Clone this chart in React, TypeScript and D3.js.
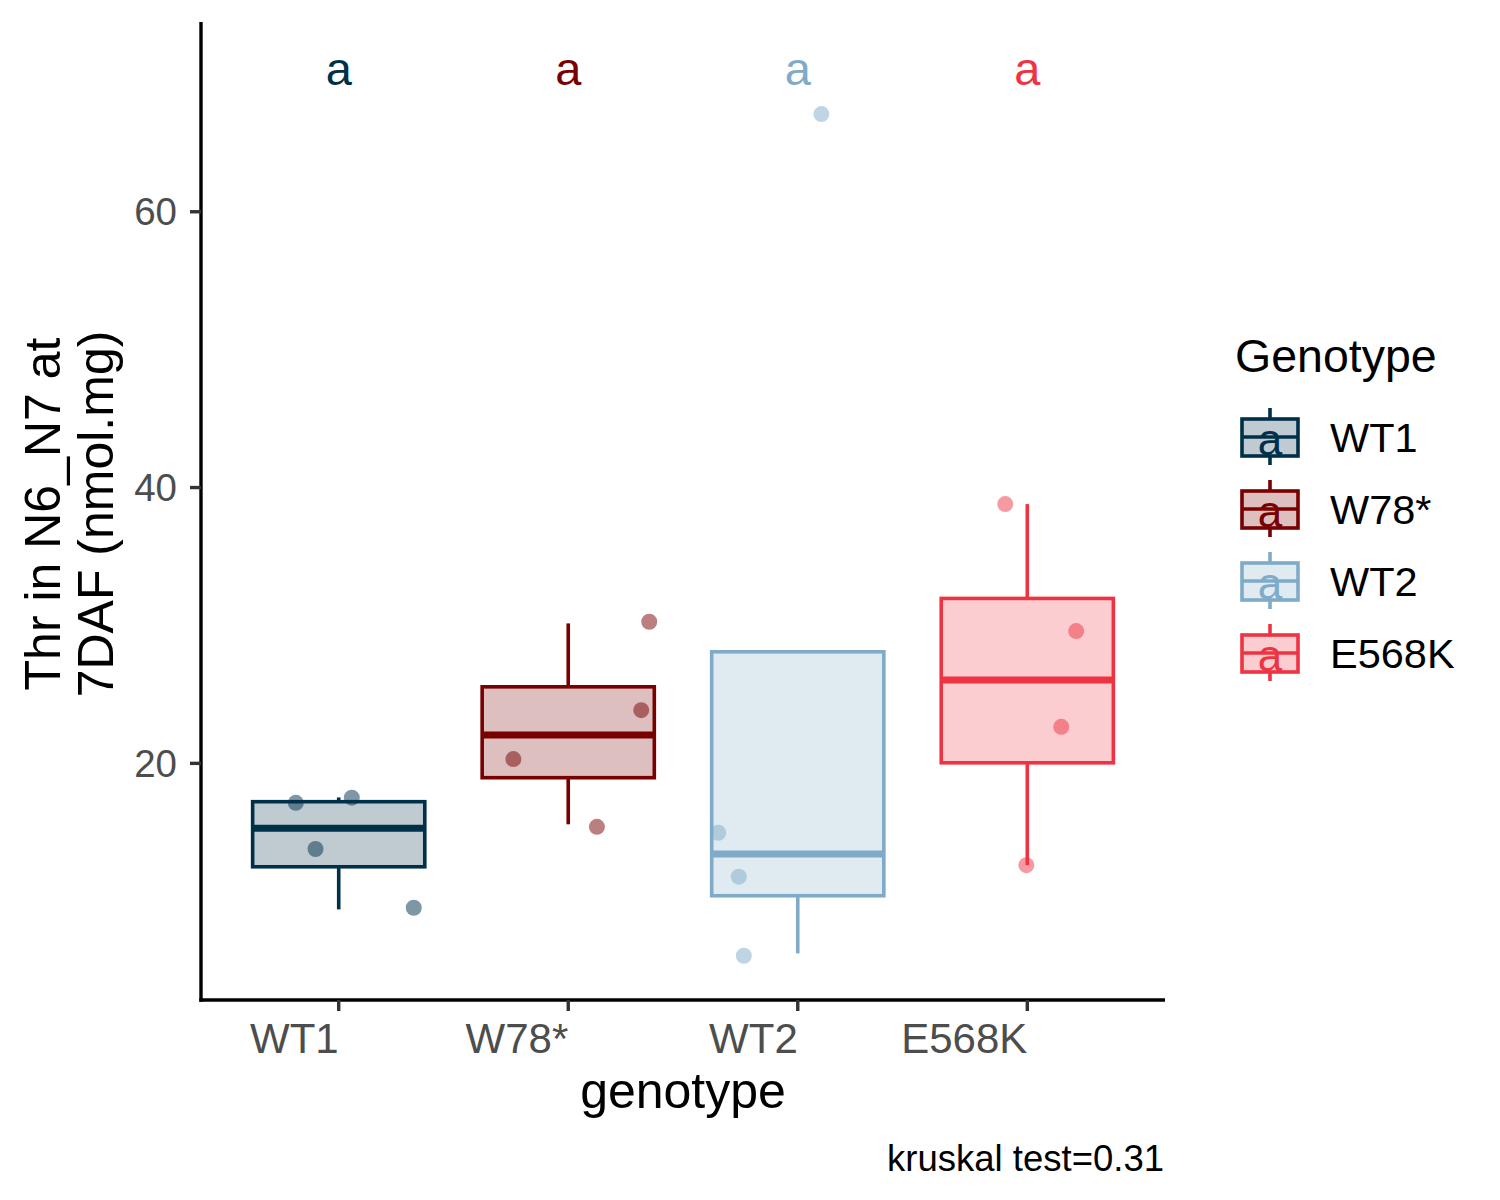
import React from "react";
import * as d3 from "d3";

const genotypes = ["WT1", "W78*", "WT2", "E568K"];
const colors = ["#003049", "#780000", "#7FABC8", "#EE3342"];

const boxLower = [9.41, 15.58, 6.22, 12.62];
const boxQ1 = [12.5, 18.96, 10.4, 20.04];
const boxMedian = [15.29, 22.05, 13.42, 26.04];
const boxQ3 = [17.22, 25.55, 28.09, 31.96];
const boxUpper = [17.53, 30.15, 28.09, 38.8];

const pointGroup = ["WT1", "WT1", "WT1", "WT1", "W78*", "W78*", "W78*", "W78*", "WT2", "WT2", "WT2", "WT2", "E568K", "E568K", "E568K", "E568K"];
const pointValue = [17.14, 17.51, 13.79, 9.53, 30.27, 23.86, 20.31, 15.4, 14.97, 11.78, 6.05, 67.08, 38.8, 29.59, 22.65, 12.62];
const pointJitter = [-0.187, 0.057, -0.101, 0.327, 0.353, 0.318, -0.239, 0.125, -0.347, -0.257, -0.235, 0.103, -0.096, 0.213, 0.148, -0.004];

const groupLetters = ["a", "a", "a", "a"];
const letterValue = 70.2;

const yTicks = [20, 40, 60];
const yDomain = [2.84, 73.76];

const yTitleLines = ["Thr in N6_N7 at", "7DAF (nmol.mg)"];
const xTitle = "genotype";
const legendTitle = "Genotype";
const caption = "kruskal test=0.31";

const FONT = "'Liberation Sans', Arial, sans-serif";

export default function App() {
  const left = 201, right = 1165, top = 22, bottom = 1000;
  const x = d3.scalePoint<string>().domain(genotypes).range([left, right]).padding(0.6);
  const step = x.step();
  const y = d3.scaleLinear().domain(yDomain).range([bottom, top]);
  const boxW = step * 0.75;
  const sw = 3.6;

  const legendX = 1242, legendKeyW = 56, legendRowH = 72, legendY0 = 437;

  return (
    <svg width={1500} height={1200} style={{ position: "absolute", left: 0, top: 0, background: "#fff" }} fontFamily={FONT}>
      <rect width={1500} height={1200} fill="#fff" />
      {/* boxes */}
      {genotypes.map((g, i) => {
        const cx = x(g)!;
        const c = colors[i];
        return (
          <g key={g}>
            {boxUpper[i] > boxQ3[i] && (
              <line x1={cx} x2={cx} y1={y(boxQ3[i])} y2={y(boxUpper[i])} stroke={c} strokeWidth={sw} />
            )}
            <line x1={cx} x2={cx} y1={y(boxQ1[i])} y2={y(boxLower[i])} stroke={c} strokeWidth={sw} />
            <rect x={cx - boxW / 2} y={y(boxQ3[i])} width={boxW} height={y(boxQ1[i]) - y(boxQ3[i])}
              fill={c} fillOpacity={0.25} stroke={c} strokeWidth={sw} />
            <line x1={cx - boxW / 2} x2={cx + boxW / 2} y1={y(boxMedian[i])} y2={y(boxMedian[i])} stroke={c} strokeWidth={7} />
          </g>
        );
      })}
      {/* points */}
      {pointValue.map((v, j) => {
        const gi = genotypes.indexOf(pointGroup[j]);
        return (
          <circle key={j} cx={x(pointGroup[j])! + pointJitter[j] * step} cy={y(v)} r={8}
            fill={colors[gi]} fillOpacity={0.5} />
        );
      })}
      {/* letters */}
      {genotypes.map((g, i) => (
        <text key={g} x={x(g)!} y={y(letterValue) + 14} textAnchor="middle" fontSize={47} fill={colors[i]}>
          {groupLetters[i]}
        </text>
      ))}
      {/* axes */}
      <line x1={left} x2={left} y1={top} y2={bottom + 1.7} stroke="#000" strokeWidth={3.4} />
      <line x1={left - 1.7} x2={right} y1={bottom} y2={bottom} stroke="#000" strokeWidth={3.4} />
      {yTicks.map((t) => (
        <g key={t}>
          <line x1={left - 11} x2={left} y1={y(t)} y2={y(t)} stroke="#333" strokeWidth={3.4} />
          <text x={left - 24} y={y(t) + 13.5} textAnchor="end" fontSize={38.5} fill="#4D4D4D">{t}</text>
        </g>
      ))}
      {genotypes.map((g) => (
        <g key={g}>
          <line x1={x(g)!} x2={x(g)!} y1={bottom} y2={bottom + 11} stroke="#333" strokeWidth={3.4} />
          <text x={x(g)!} y={1053} textAnchor="end" fontSize={42} fill="#4D4D4D">{g}</text>
        </g>
      ))}
      {/* axis titles */}
      <text x={(left + right) / 2} y={1108} textAnchor="middle" fontSize={50} fill="#000">{xTitle}</text>
      {yTitleLines.map((ln, k) => (
        <text key={k} transform={`translate(${60 + k * 53},514) rotate(-90)`} textAnchor="middle" fontSize={50} fill="#000">
          {ln}
        </text>
      ))}
      <text x={right - 1} y={1171} textAnchor="end" fontSize={36.5} fill="#000">{caption}</text>
      {/* legend */}
      <text x={1235} y={372} fontSize={46.5} fill="#000">{legendTitle}</text>
      {genotypes.map((g, i) => {
        const cy = legendY0 + i * legendRowH;
        const cx = legendX + legendKeyW / 2;
        const c = colors[i];
        return (
          <g key={g}>
            <line x1={cx} x2={cx} y1={cy - 29} y2={cy + 28} stroke={c} strokeWidth={sw} />
            <rect x={legendX} y={cy - 18} width={legendKeyW} height={37} fill="#fff" />
            <rect x={legendX} y={cy - 18} width={legendKeyW} height={37} fill={c} fillOpacity={0.25} stroke={c} strokeWidth={sw} />
            <line x1={legendX} x2={legendX + legendKeyW} y1={cy} y2={cy} stroke={c} strokeWidth={sw} />
            <text x={cx} y={cy + 18} textAnchor="middle" fontSize={44} fill={c}>{groupLetters[i]}</text>
            <text x={1330} y={cy + 15} fontSize={41.5} fill="#000">{g}</text>
          </g>
        );
      })}
    </svg>
  );
}
